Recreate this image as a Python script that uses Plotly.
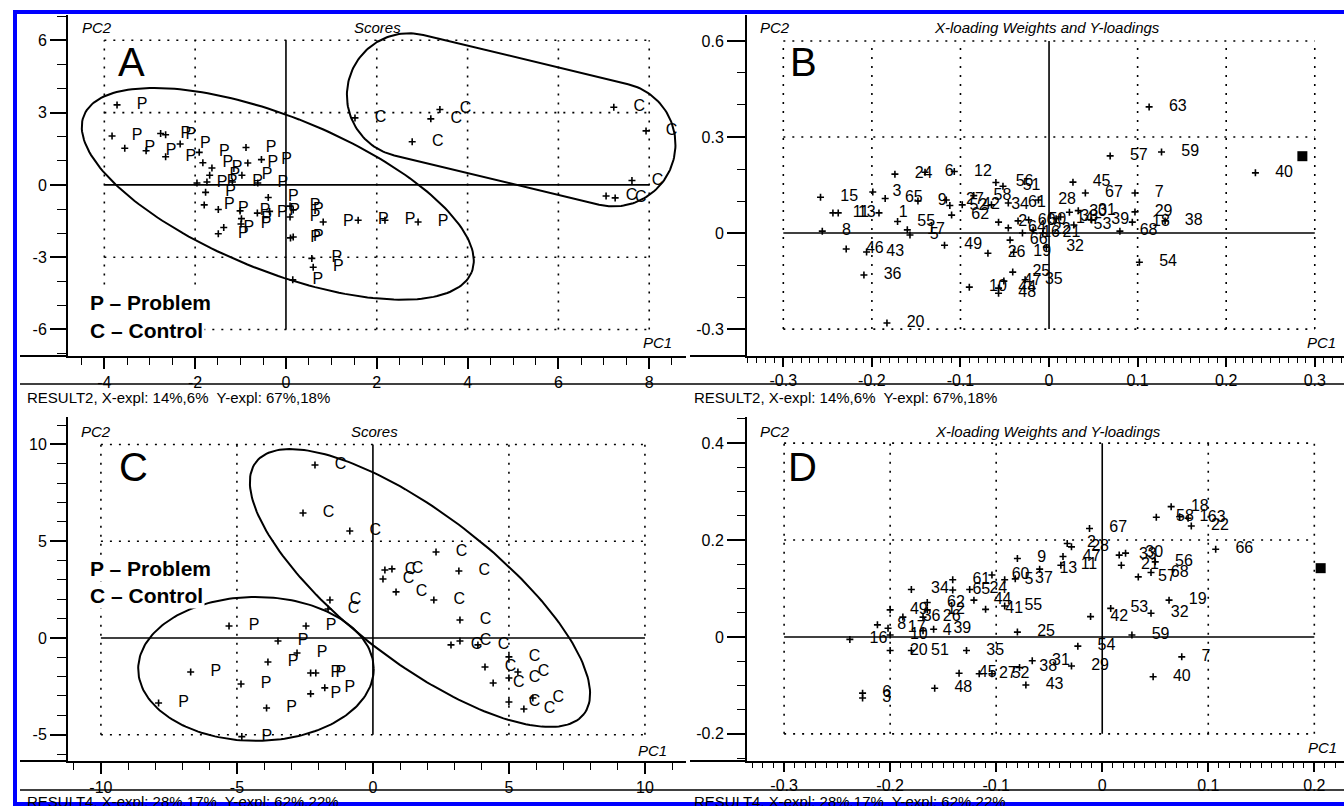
import numpy as np
import plotly.graph_objects as go

W, H = 1344, 806

# ---------------- Panel A : Scores (RESULT2) ----------------
A_P_x = [-3.72, -3.83, -3.55, -3.08, -2.76, -2.65, -2.65, -2.33, -1.91, -1.83,
         -1.63, -1.68, -1.96, -1.74, -1.18, -0.97, -0.88, -0.84, -0.54, -0.62,
         -0.39, -1.77, -1.80, -1.49, -1.37, -1.49, -1.01, -0.99, -0.63, -0.36,
         0.09, 0.16, 0.09, 0.10, 0.16, 0.15, 0.57, 0.60, 0.82, 1.59,
         2.18, 2.91, -0.98]
A_P_y = [3.32, 2.03, 1.52, 1.42, 2.13, 2.08, 1.17, 1.70, 1.35, 0.92,
         0.70, 0.40, 0.08, 0.12, 0.12, 0.40, 1.55, 0.91, 1.05, 0.08,
         -0.52, -0.31, -0.83, -1.02, -1.77, -2.03, -1.08, -1.62, -1.17, -1.10,
         -0.88, -1.04, -1.33, -2.20, -2.16, -3.94, -3.05, -3.42, -1.54, -1.47,
         -1.47, -1.54, -1.40]
A_C_x = [1.52, 2.78, 3.19, 3.39, 7.22, 7.93, 7.62, 7.05, 7.25]
A_C_y = [2.78, 1.79, 2.74, 3.13, 3.22, 2.24, 0.18, -0.46, -0.54]

# ---------------- Panel B : X-loading weights (RESULT2) ----------------
B_lab = ["63", "57", "59", "40", "54", "45", "67", "7", "29", "18",
         "38", "68", "39", "28", "56", "51", "34", "61", "12", "6",
         "24", "15", "3", "65", "9", "27", "58", "52", "42", "62",
         "11", "13", "1", "55", "17", "5", "8", "46", "43", "49",
         "36", "10", "20", "26", "19", "25", "47", "35", "48", "44",
         "32", "66", "22", "21", "50", "2", "64", "14", "33", "53",
         "30", "31", "60", "16"]
B_x = [0.113, 0.069, 0.127, 0.233, 0.102, 0.027, 0.041, 0.097, 0.097, 0.094,
       0.131, 0.080, 0.048, -0.012, -0.060, -0.052, -0.065, -0.046, -0.107, -0.140,
       -0.174, -0.258, -0.199, -0.185, -0.148, -0.116, -0.085, -0.112, -0.098, -0.110,
       -0.244, -0.238, -0.192, -0.171, -0.160, -0.157, -0.256, -0.229, -0.206, -0.118,
       -0.209, -0.090, -0.183, -0.069, -0.040, -0.041, -0.051, -0.027, -0.057, -0.057,
       -0.003, -0.044, -0.018, -0.007, -0.023, -0.057, -0.046, 0.008, 0.013, 0.028,
       0.023, 0.033, -0.035, -0.030]
B_y = [0.394, 0.241, 0.253, 0.188, -0.091, 0.159, 0.125, 0.125, 0.066, 0.034,
       0.038, 0.006, 0.041, 0.103, 0.158, 0.146, 0.088, 0.094, 0.192, 0.190,
       0.184, 0.112, 0.128, 0.108, 0.100, 0.103, 0.117, 0.086, 0.088, 0.056,
       0.063, 0.063, 0.063, 0.036, 0.010, -0.006, 0.006, -0.050, -0.059, -0.038,
       -0.131, -0.169, -0.281, -0.063, -0.060, -0.122, -0.150, -0.146, -0.188, -0.172,
       -0.044, -0.022, 0.009, 0.000, 0.041, 0.034, 0.016, 0.045, 0.050, 0.025,
       0.065, 0.070, 0.038, 0.000]
B_yload_x = [0.286]
B_yload_y = [0.240]

# ---------------- Panel C : Scores (RESULT4) ----------------
C_P_x = [-5.29, -2.46, -3.49, -2.79, -3.86, -6.70, -4.85, -2.29, -2.10, -2.29,
         -1.77, -7.88, -3.91, -4.82]
C_P_y = [0.62, 0.62, -0.16, -0.78, -1.24, -1.76, -2.38, -1.81, -1.81, -2.89,
         -2.58, -3.36, -3.62, -5.10]
C_C_x = [-2.13, -2.57, -0.85, 2.32, 0.44, 0.70, 0.37, 3.16, 0.85, 2.24,
         -1.58, -1.65, 3.20, 2.87, 3.20, 3.86, 4.12, 4.42, 5.00, 5.33,
         5.00, 5.00, 5.55, 5.88]
C_C_y = [8.94, 6.46, 5.53, 4.44, 3.51, 3.57, 3.05, 3.46, 2.38, 1.96,
         1.96, 1.50, 0.93, -0.36, -0.16, -0.36, -1.50, -2.33, -0.98, -1.76,
         -2.07, -3.31, -3.67, -3.10]

# ---------------- Panel D : X-loading weights (RESULT4) ----------------
D_lab = ["18", "58", "1", "63", "22", "67", "66", "2", "28", "47",
         "11", "13", "9", "60", "5", "37", "61", "65", "24", "44",
         "34", "41", "55", "62", "49", "36", "26", "12", "8", "17",
         "10", "16", "4", "39", "25", "20", "51", "35", "54", "31",
         "38", "29", "45", "27", "52", "43", "48", "7", "40", "59",
         "53", "42", "32", "19", "56", "57", "68", "21", "33", "30",
         "6", "3"]
D_x = [0.065, 0.051, 0.073, 0.081, 0.084, -0.012, 0.107, -0.033, -0.029, -0.037,
       -0.039, -0.059, -0.080, -0.104, -0.092, -0.082, -0.141, -0.141, -0.125, -0.121,
       -0.180, -0.110, -0.092, -0.165, -0.200, -0.188, -0.169, -0.165, -0.212, -0.202,
       -0.200, -0.238, -0.169, -0.159, -0.080, -0.200, -0.180, -0.128, -0.023, -0.066,
       -0.078, -0.029, -0.135, -0.116, -0.104, -0.072, -0.158, 0.075, 0.048, 0.028,
       0.008, -0.011, 0.046, 0.063, 0.050, 0.034, 0.046, 0.018, 0.016, 0.022,
       -0.226, -0.226]
D_y = [0.269, 0.247, 0.248, 0.245, 0.229, 0.224, 0.181, 0.193, 0.186, 0.166,
       0.148, 0.140, 0.162, 0.128, 0.118, 0.120, 0.118, 0.097, 0.098, 0.076,
       0.098, 0.057, 0.064, 0.071, 0.056, 0.041, 0.041, 0.056, 0.025, 0.018,
       0.004, -0.005, 0.013, 0.016, 0.010, -0.028, -0.028, -0.028, -0.019, -0.049,
       -0.063, -0.060, -0.075, -0.076, -0.076, -0.099, -0.106, -0.041, -0.082, 0.004,
       0.059, 0.042, 0.049, 0.076, 0.155, 0.124, 0.133, 0.148, 0.169, 0.173,
       -0.116, -0.126]
D_yload_x = [0.206]
D_yload_y = [0.142]

# ---------------- ticks ----------------
A_xticks = [-4, -2, 0, 2, 4, 6, 8]
A_yticks = [-6, -3, 0, 3, 6]
B_xticks = [-0.3, -0.2, -0.1, 0, 0.1, 0.2, 0.3]
B_yticks = [-0.3, 0, 0.3, 0.6]
C_xticks = [-10, -5, 0, 5, 10]
C_yticks = [-5, 0, 5, 10]
D_xticks = [-0.3, -0.2, -0.1, 0, 0.1, 0.2]
D_yticks = [-0.2, 0, 0.2, 0.4]

# ---------------- ellipses (centre, two conjugate semi-axis vectors) ----------------
A_ellP = dict(c=(-0.18, -0.37), u=(4.27, -3.25), v=(-0.636, -2.96))
A_capC = dict(c=(4.96, 2.70), u=(3.58, -1.62), v=(-0.319, -2.50), flat=0.63)
C_ellP = dict(c=(-4.30, -1.60), u=(4.33, 0.0), v=(0.0, 3.72))
C_ellC = dict(c=(1.73, 2.58), u=(6.03, -6.51), v=(-1.66, -3.03))

RES2 = "RESULT2, X-expl: 14%,6%  Y-expl: 67%,18%"
RES4 = "RESULT4, X-expl: 28%,17%  Y-expl: 62%,22%"

# ---------------- helpers ----------------
FONT = "Liberation Sans, Arial, sans-serif"
NARROW = "Liberation Sans Narrow, Arial Narrow, Liberation Sans, sans-serif"


def fmt(v):
    return "%g" % v


def px_x(p):
    return p / W


def px_y(p):
    return 1 - p / H


def ellipse_pts(e, n=200):
    t = np.linspace(0, 2 * np.pi, n)
    cx, cy = e["c"]
    ux, uy = e["u"]
    vx, vy = e["v"]
    return cx + ux * np.cos(t) + vx * np.sin(t), cy + uy * np.cos(t) + vy * np.sin(t)


def capsule_pts(e, n=80):
    f = e["flat"]
    r = 1 - f
    ph = np.linspace(-np.pi / 2, np.pi / 2, n)
    s1 = f + r * np.cos(ph)
    t1 = np.sin(ph)
    s2 = -f - r * np.cos(ph)
    t2 = -np.sin(ph)
    s = np.concatenate([s1, s2, s1[:1]])
    t = np.concatenate([t1, t2, t1[:1]])
    cx, cy = e["c"]
    ux, uy = e["u"]
    vx, vy = e["v"]
    return cx + ux * s + vx * t, cy + uy * s + vy * t


fig = go.Figure()

PANELS = {
    "A": dict(xa="x", ya="y", xdom=(68, 686), ydom=(15, 356), xr=(-4.80, 8.81), yr=(-7.10, 7.05),
              xt=A_xticks, yt=A_yticks, xmin=0.5, ymin=1, xlen=(11, 7), ylen=(16, 9)),
    "B": dict(xa="x2", ya="y2", xdom=(747, 1344), ydom=(15, 356), xr=(-0.341, 0.333), yr=(-0.384, 0.681),
              xt=B_xticks, yt=B_yticks, xmin=0.01, ymin=0.1, xlen=(9, 5), ylen=(18, 8)),
    "C": dict(xa="x3", ya="y3", xdom=(68, 686), ydom=(417, 761), xr=(-11.21, 11.51), yr=(-6.36, 11.42),
              xt=C_xticks, yt=C_yticks, xmin=1, ymin=1, xlen=(11, 7), ylen=(16, 9)),
    "D": dict(xa="x4", ya="y4", xdom=(747, 1344), ydom=(417, 761), xr=(-0.335, 0.228), yr=(-0.256, 0.454),
              xt=D_xticks, yt=D_yticks, xmin=0.01, ymin=0.05, xlen=(9, 5), ylen=(18, 8)),
}

TICKFONT = dict(family=FONT, size=16, color="black")
layout_axes = {}
shapes = []
for key, p in PANELS.items():
    xname = "xaxis" + p["xa"][1:]
    yname = "yaxis" + p["ya"][1:]
    layout_axes[xname] = dict(
        domain=[px_x(p["xdom"][0]), px_x(p["xdom"][1])], range=list(p["xr"]), anchor=p["ya"],
        tickmode="array", tickvals=p["xt"], ticktext=[fmt(v) for v in p["xt"]],
        ticks="outside", ticklen=p["xlen"][0], tickwidth=1.5, tickcolor="black",
        showline=True, linecolor="black", linewidth=2, showgrid=False, zeroline=False,
        tickfont=TICKFONT, fixedrange=True,
        minor=dict(dtick=p["xmin"], tick0=0, ticks="outside", ticklen=p["xlen"][1],
                   tickwidth=1, tickcolor="black", showgrid=False))
    layout_axes[yname] = dict(
        domain=[px_y(p["ydom"][1]), px_y(p["ydom"][0])], range=list(p["yr"]), anchor=p["xa"],
        tickmode="array", tickvals=p["yt"], ticktext=[fmt(v) for v in p["yt"]],
        ticks="outside", ticklen=p["ylen"][0], tickwidth=1.5, tickcolor="black",
        showline=True, linecolor="black", linewidth=2, showgrid=False, zeroline=False,
        tickfont=TICKFONT, fixedrange=True,
        minor=dict(dtick=p["ymin"], tick0=0, ticks="outside", ticklen=p["ylen"][1],
                   tickwidth=1, tickcolor="black", showgrid=False))
    # dotted grid box + solid centre lines
    gx0, gx1 = p["xt"][0], p["xt"][-1]
    gy0, gy1 = p["yt"][0], p["yt"][-1]
    dot = dict(color="black", width=1.6, dash="2px,7px")
    for xv in p["xt"]:
        if xv == 0:
            continue
        shapes.append(dict(type="line", xref=p["xa"], yref=p["ya"], x0=xv, x1=xv, y0=gy0, y1=gy1,
                           line=dot, layer="below"))
    for yv in p["yt"]:
        if yv == 0:
            continue
        shapes.append(dict(type="line", xref=p["xa"], yref=p["ya"], x0=gx0, x1=gx1, y0=yv, y1=yv,
                           line=dot, layer="below"))
    shapes.append(dict(type="line", xref=p["xa"], yref=p["ya"], x0=0, x1=0, y0=gy0, y1=gy1,
                       line=dict(color="black", width=1.6), layer="below"))
    shapes.append(dict(type="line", xref=p["xa"], yref=p["ya"], x0=gx0, x1=gx1, y0=0, y1=0,
                       line=dict(color="black", width=1.6), layer="below"))
    # x-axis line continues to the left of the y-axis
    left = 20 if p["xdom"][0] < 300 else 690
    shapes.append(dict(type="line", xref="paper", yref="paper",
                       x0=px_x(left), x1=px_x(p["xdom"][0]), y0=px_y(p["ydom"][1]), y1=px_y(p["ydom"][1]),
                       line=dict(color="black", width=2)))

# separator lines under tick labels
for yy in (384, 790):
    shapes.append(dict(type="line", xref="paper", yref="paper", x0=px_x(20), x1=1,
                       y0=px_y(yy), y1=px_y(yy), line=dict(color="black", width=1.5)))
# blue frame
shapes.append(dict(type="rect", xref="paper", yref="paper", x0=px_x(15), x1=px_x(1370),
                   y0=px_y(804), y1=px_y(12), line=dict(color="#0000ff", width=4)))

MK = dict(symbol="cross-thin", size=5, line=dict(width=1.6, color="black"), color="black")
LBLFONT = dict(family=NARROW, size=16, color="black")


def add_points(x, y, labels, xa, ya):
    fig.add_trace(go.Scatter(x=x, y=y, mode="markers", marker=MK, xaxis=xa, yaxis=ya,
                             hoverinfo="skip", cliponaxis=False))
    fig.add_trace(go.Scatter(x=x, y=y, mode="markers+text", text=labels, textposition="middle right",
                             textfont=LBLFONT, marker=dict(size=30, color="rgba(0,0,0,0)"),
                             xaxis=xa, yaxis=ya, hoverinfo="skip", cliponaxis=False))


def add_curve(xy, xa, ya):
    fig.add_trace(go.Scatter(x=xy[0], y=xy[1], mode="lines", line=dict(color="black", width=2),
                             xaxis=xa, yaxis=ya, hoverinfo="skip"))


# Panel A
add_curve(ellipse_pts(A_ellP), "x", "y")
add_curve(capsule_pts(A_capC), "x", "y")
add_points(A_P_x, A_P_y, ["P"] * len(A_P_x), "x", "y")
add_points(A_C_x, A_C_y, ["C"] * len(A_C_x), "x", "y")
# Panel B
add_points(B_x, B_y, B_lab, "x2", "y2")
fig.add_trace(go.Scatter(x=B_yload_x, y=B_yload_y, mode="markers", xaxis="x2", yaxis="y2",
                         marker=dict(symbol="square", size=10, color="black"), hoverinfo="skip"))
# Panel C
add_curve(ellipse_pts(C_ellP), "x3", "y3")
add_curve(ellipse_pts(C_ellC), "x3", "y3")
add_points(C_P_x, C_P_y, ["P"] * len(C_P_x), "x3", "y3")
add_points(C_C_x, C_C_y, ["C"] * len(C_C_x), "x3", "y3")
# Panel D
add_points(D_x, D_y, D_lab, "x4", "y4")
fig.add_trace(go.Scatter(x=D_yload_x, y=D_yload_y, mode="markers", xaxis="x4", yaxis="y4",
                         marker=dict(symbol="square", size=10, color="black"), hoverinfo="skip"))

annotations = []


def ann(text, x, y, size, xanchor="center", bold=False, italic=False, bg=None, family=FONT):
    if italic:
        text = "<i>" + text + "</i>"
    if bold:
        text = "<b>" + text + "</b>"
    d = dict(text=text, xref="paper", yref="paper", x=px_x(x), y=px_y(y), xanchor=xanchor,
             yanchor="middle", showarrow=False, font=dict(family=family, size=size, color="black"))
    if bg:
        d.update(bgcolor=bg, borderpad=1)
    annotations.append(d)


# titles and axis names
ann("PC2", 97, 28, 15, italic=True)
ann("Scores", 377, 28, 15, italic=True)
ann("PC1", 657, 343, 15, italic=True)
ann("A", 131, 62, 40)
ann("P \u2013 Problem", 88, 303, 21, xanchor="left", bold=True, bg="white")
ann("C \u2013 Control", 88, 330, 21, xanchor="left", bold=True, bg="white")

ann("PC2", 775, 28, 15, italic=True)
ann("X-loading Weights and Y-loadings", 1047, 28, 15, italic=True)
ann("PC1", 1321, 343, 15, italic=True)
ann("B", 803, 62, 40)

ann("PC2", 96, 432, 15, italic=True)
ann("Scores", 374, 432, 15, italic=True)
ann("PC1", 652, 750, 15, italic=True)
ann("C", 133, 467, 40)
ann("P \u2013 Problem", 88, 568, 21, xanchor="left", bold=True, bg="white")
ann("C \u2013 Control", 88, 595, 21, xanchor="left", bold=True, bg="white")

ann("PC2", 775, 432, 15, italic=True)
ann("X-loading Weights and Y-loadings", 1048, 432, 15, italic=True)
ann("PC1", 1322, 747, 15, italic=True)
ann("D", 802, 467, 40)

ann(RES2, 25, 397, 15, xanchor="left")
ann(RES2, 692, 397, 15, xanchor="left")
ann(RES4, 25, 801, 15, xanchor="left")
ann(RES4, 692, 801, 15, xanchor="left")

fig.update_layout(width=W, height=H, margin=dict(l=0, r=0, t=0, b=0), paper_bgcolor="white",
                  plot_bgcolor="rgba(0,0,0,0)", showlegend=False, hovermode=False,
                  shapes=shapes, annotations=annotations, font=dict(family=FONT), **layout_axes)

fig.write_html("out.html", include_plotlyjs=True, full_html=True,
               config={"displayModeBar": False},
               post_script="document.body.style.margin='0';document.body.style.overflow='hidden';")
